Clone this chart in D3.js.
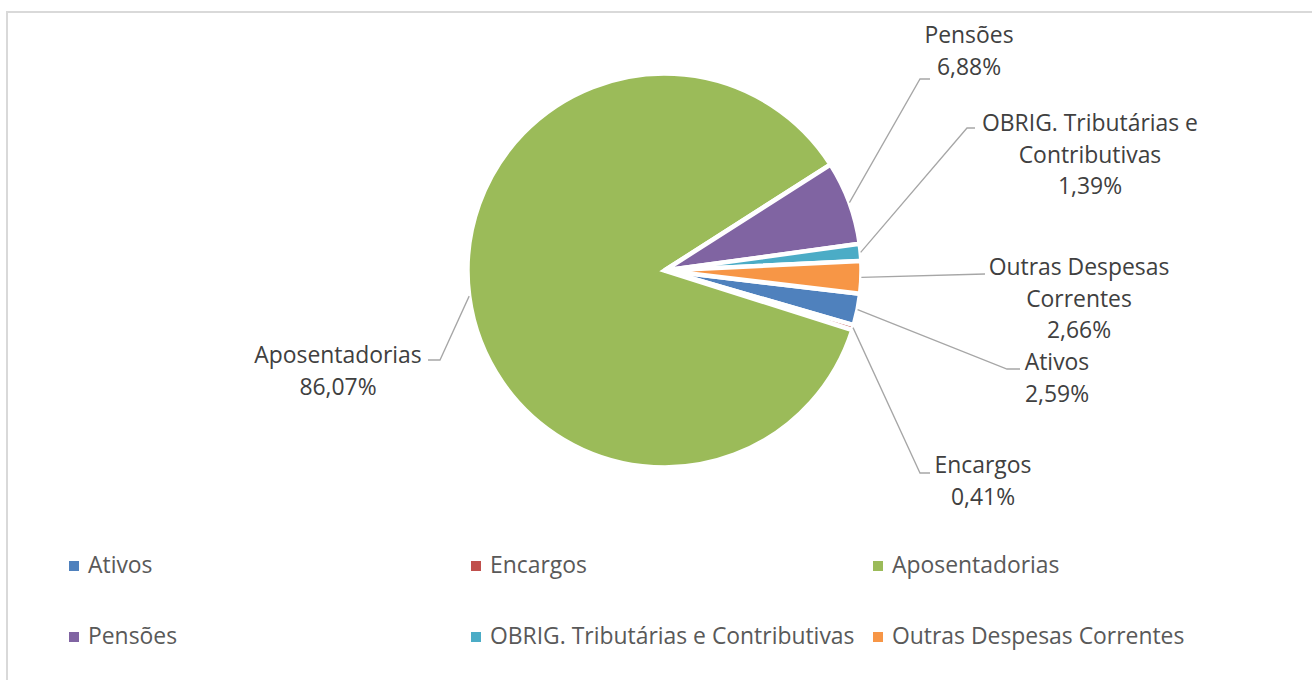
<!DOCTYPE html>
<html>
<head>
<meta charset="utf-8">
<script src="https://cdn.jsdelivr.net/npm/d3@7"></script>
<style>
  html, body { margin: 0; padding: 0; background: #ffffff; }
  svg { display: block; }
  text { font-family: "Open Sans", sans-serif; }
</style>
</head>
<body>
<svg id="chart" width="1312" height="680"></svg>
<script>
// ---- data ----
const categories = ["Ativos", "Encargos", "Aposentadorias", "Pensões", "OBRIG. Tributárias e Contributivas", "Outras Despesas Correntes"];
const values = [2.59, 0.41, 86.07, 6.88, 1.39, 2.66];
const percentLabels = ["2,59%", "0,41%", "86,07%", "6,88%", "1,39%", "2,66%"];
const labelNameLines = [["Ativos"], ["Encargos"], ["Aposentadorias"], ["Pensões"], ["OBRIG. Tributárias e", "Contributivas"], ["Outras Despesas", "Correntes"]];
const colors = ["#4F81BD", "#C0504D", "#9BBB59", "#8064A2", "#4BACC6", "#F79646"];

// ---- layout (positions for labels / leaders, not data) ----
const labelLayout = [
  { x: 1057, y: 370, elbow: [1007, 369], end: [1020, 369] },
  { x: 983,  y: 473, elbow: [920, 473],  end: [930, 473] },
  { x: 338,  y: 363, elbow: [440, 360],  end: [428, 360] },
  { x: 969,  y: 43,  elbow: [920, 79],   end: [930, 79] },
  { x: 1090, y: 131, elbow: [967, 128],  end: [975, 128] },
  { x: 1079, y: 275, elbow: null,        end: [985, 274] }
];
const lineH = 31.7;
const fontSize = "22.9px";

const svg = d3.select("#chart");
const W = 1312, H = 680;

// chart area border
svg.append("rect")
  .attr("x", 7).attr("y", 12)
  .attr("width", W + 20).attr("height", H + 20)
  .attr("fill", "#ffffff")
  .attr("stroke", "#d9d9d9").attr("stroke-width", 2);

const cx = 664.5, cy = 270.5, R = 197;
const start = 96.8 * Math.PI / 180;

const pie = d3.pie().sort(null).value(d => d)
  .startAngle(start).endAngle(start + 2 * Math.PI);
const arcs = pie(values);
const arc = d3.arc().innerRadius(0).outerRadius(R);

const g = svg.append("g").attr("transform", `translate(${cx},${cy})`);
g.selectAll("path.slice")
  .data(arcs)
  .join("path")
  .attr("class", "slice")
  .attr("d", arc)
  .attr("fill", (d, i) => colors[i])
  .attr("stroke", "#ffffff")
  .attr("stroke-width", 4.5)
  .attr("stroke-linejoin", "miter");

// leader lines
arcs.forEach((d, i) => {
  const mid = (d.startAngle + d.endAngle) / 2;
  const p0 = [cx + R * Math.sin(mid), cy - R * Math.cos(mid)];
  const L = labelLayout[i];
  const pts = [p0];
  if (L.elbow) pts.push(L.elbow);
  pts.push(L.end);
  svg.append("path")
    .attr("d", d3.line()(pts))
    .attr("fill", "none")
    .attr("stroke", "#a6a6a6")
    .attr("stroke-width", 1.3);
});

// data labels
arcs.forEach((d, i) => {
  const L = labelLayout[i];
  const lines = labelNameLines[i].concat([percentLabels[i]]);
  const t = svg.append("text")
    .attr("text-anchor", "middle")
    .attr("font-size", fontSize)
    .attr("fill", "#404040");
  lines.forEach((s, k) => {
    t.append("tspan").attr("x", L.x).attr("y", L.y + k * lineH).text(s);
  });
});

// legend
const legendCols = [88, 490, 892];
const legendRows = [573, 644];
categories.forEach((c, i) => {
  const col = i % 3, row = Math.floor(i / 3);
  const tx = legendCols[col], ty = legendRows[row];
  svg.append("rect")
    .attr("x", tx - 19).attr("y", ty - 12)
    .attr("width", 10).attr("height", 10)
    .attr("fill", colors[i]);
  svg.append("text")
    .attr("x", tx).attr("y", ty)
    .attr("font-size", fontSize)
    .attr("fill", "#595959")
    .text(c);
});
</script>
</body>
</html>
